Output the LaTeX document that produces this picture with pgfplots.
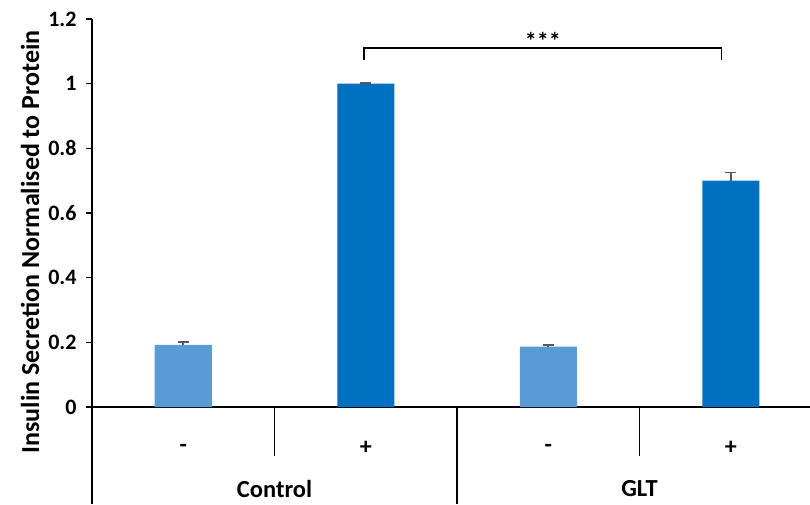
\documentclass[border=0pt]{standalone}
\usepackage{pgfplots}
\pgfplotsset{compat=1.18}
\usepackage{fontspec}
\setmainfont{Carlito}
\definecolor{lightbar}{HTML}{5B9BD5}
\definecolor{darkbar}{HTML}{0070C0}
\definecolor{errgray}{HTML}{595959}
\begin{document}
\begin{tikzpicture}[x=1pt,y=1pt]
\useasboundingbox (0,0) rectangle (810,504);
\begin{axis}[
  at={(92pt,97pt)}, anchor=south west,
  scale only axis, width=718pt, height=388pt,
  xmin=-0.5, xmax=3.434, ymin=0, ymax=1.2,
  axis x line=bottom, axis y line=left,
  axis line style={-, line width=1.6pt, black},
  ytick={0,0.2,...,1.2},
  yticklabels={0,0.2,0.4,0.6,0.8,1,1.2},
  y tick style={line width=1.6pt, black},
  tick align=outside, major tick length=6pt,
  xtick={0,1,2,3}, xticklabels={-,+,-,+},
  x tick style={draw=none},
  xticklabel style={font=\fontsize{24}{28}\selectfont\bfseries, anchor=center, yshift=-35pt},
  yticklabel style={font=\fontsize{22}{26}\selectfont\bfseries, xshift=-6pt},
  clip=false,
  error bars/error bar style={line width=1.6pt, errgray},
  error bars/error mark options={line width=1.6pt, errgray, rotate=90, mark size=5.5pt},
]
\addplot[ybar, bar width=0.3125, bar shift=0pt, fill=lightbar, draw=none,
  error bars/.cd, y dir=plus, y explicit]
  coordinates {(0,0.192) +- (0,0.009) (2,0.187) +- (0,0.004)};
\addplot[ybar, bar width=0.3125, bar shift=0pt, fill=darkbar, draw=none,
  error bars/.cd, y dir=plus, y explicit]
  coordinates {(1,1.0) +- (0,0.002) (3,0.70) +- (0,0.025)};
% separators
\draw[line width=1.6pt] (axis cs:-0.5,0) -- (axis cs:-0.5,-0.3);
\draw[line width=1.6pt] (axis cs:0.5,0) -- (axis cs:0.5,-0.1516);
\draw[line width=1.6pt] (axis cs:1.5,0) -- (axis cs:1.5,-0.3);
\draw[line width=1.6pt] (axis cs:2.5,0) -- (axis cs:2.5,-0.1516);
\node[font=\fontsize{24.5}{28}\selectfont\bfseries] at (axis cs:0.5,-0.2536) {Control};
\node[font=\fontsize{24.5}{28}\selectfont\bfseries] at (axis cs:2.5,-0.2536) {GLT};
% significance bracket
\draw[line width=1.6pt] (axis cs:0.99,1.073) -- (axis cs:0.99,1.11) -- (axis cs:2.95,1.11) -- (axis cs:2.95,1.073);
\node[font=\fontsize{24}{28}\selectfont\bfseries] at (axis cs:1.97,1.132) {***};
\end{axis}
\node[rotate=90, font=\fontsize{26}{30}\selectfont\bfseries] at (30,262) {Insulin Secretion Normalised to Protein};
\end{tikzpicture}
\end{document}
